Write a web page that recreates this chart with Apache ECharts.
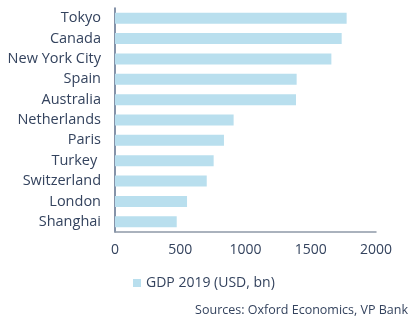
<!DOCTYPE html>
<html><head><meta charset="utf-8">
<script src="https://cdn.jsdelivr.net/npm/echarts@6/dist/echarts.min.js"></script>
<style>html,body{margin:0;padding:0;background:#fff}#c{width:419px;height:324px}</style>
</head><body><div id="c"></div>
<script>
const categories = ["Tokyo","Canada","New York City","Spain","Australia","Netherlands","Paris","Turkey ","Switzerland","London","Shanghai"];
const gdp2019 = [1775,1737,1658,1392,1387,909,835,756,703,552,473];
const seriesName = "GDP 2019 (USD, bn)";
const xTicks = [0,500,1000,1500,2000];
const sourceText = "Sources: Oxford Economics, VP Bank";

const chart = echarts.init(document.getElementById('c'), null, {renderer:'canvas'});
const txt = '#34435e';
const ff = 'Open Sans';
chart.setOption({
  animation:false,
  textStyle:{fontFamily:ff},
  grid:{left:115, right:43, top:8, height:224, containLabel:false},
  xAxis:{type:'value', min:xTicks[0], max:xTicks[xTicks.length-1], interval:500,
    axisLine:{show:true, lineStyle:{color:'#8e99a8', width:1.5}},
    axisTick:{show:false}, splitLine:{show:false},
    axisLabel:{color:txt, fontSize:14, margin:11, fontFamily:ff, formatter:v=>String(v)}},
  yAxis:{type:'category', data:categories, inverse:true,
    axisLine:{show:true, lineStyle:{color:'#5c6f8c', width:1.5}},
    axisTick:{show:false},
    axisLabel:{color:txt, fontSize:14.5, margin:14, fontFamily:ff}},
  legend:{left:128, top:271, itemWidth:8, itemHeight:8, itemGap:3, icon:'rect',
    textStyle:{color:txt, fontSize:14, fontFamily:ff}, data:[seriesName]},
  graphic:[{type:'text', right:11, top:304, style:{text:sourceText, fill:txt, fontSize:12.5, fontFamily:ff}}],
  series:[{name:seriesName, type:'bar', data:gdp2019, barWidth:11,
    itemStyle:{color:'#b9dfee'}}]
});
</script></body></html>
